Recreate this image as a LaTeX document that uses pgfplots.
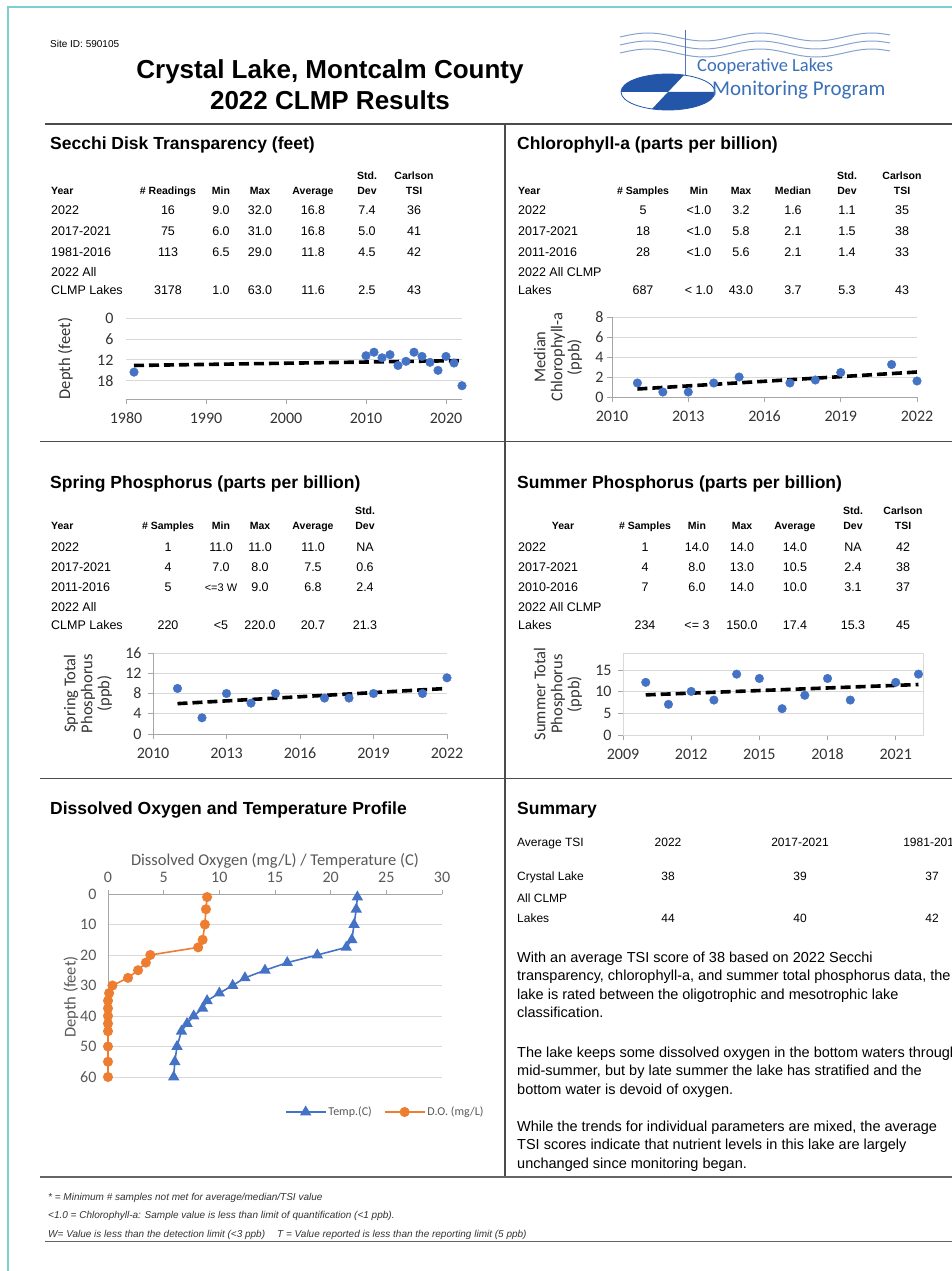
\documentclass[border=0pt]{standalone}
\usepackage{pgfplots}
\pgfplotsset{compat=1.18}
\usepackage{fontspec}
\setmainfont{Liberation Sans}
\newfontfamily\calib{Carlito}[Numbers=Lining]
\definecolor{xlblue}{HTML}{4472C4}
\definecolor{xlorange}{HTML}{ED7D31}
\definecolor{gridc}{HTML}{D9D9D9}
\definecolor{tealb}{HTML}{80CFCF}
\definecolor{logob}{HTML}{2356A8}
\definecolor{logot}{HTML}{3A70B8}
\definecolor{txtg}{HTML}{595959}
\newcommand{\fs}[1]{\fontsize{#1}{#1}\selectfont}
\newcommand{\fsl}[2]{\fontsize{#1}{#2}\selectfont}
\newcommand{\cells}[2]{\foreach \xx/\cc in {#2}{\node[anchor=base,inner sep=0pt] at (\xx,-#1) {\cc};}}
\newcommand{\lt}[3]{\node[anchor=base west,inner sep=0pt] at (#1,-#2) {#3};}
\tikzset{axln/.style={gray!70, line width=0.9pt}}

\pgfplotsset{
  smallchart/.style={
    scale only axis, clip=false,
    /pgf/number format/assume math mode=true,
    /pgf/number format/1000 sep={},
    ymajorgrids, grid style={gridc, line width=0.9pt},
    axis line style={gray!70, line width=0.9pt},
    tick style={gray!70, line width=0.9pt},
    major tick length=5pt, tick align=outside,
    tick label style={font=\calib\fs{16}, text=black!80},
    xticklabel style={text height=10.5pt, text depth=0pt},
    label style={font=\calib\fsl{16.5}{17}, text=black!80},
    xticklabel shift=5pt,
  },
  dots/.style={only marks, mark=*, mark size=4.3pt, mark options={fill=xlblue, draw=xlblue}},
  trend/.style={black, line width=3.6pt, dash pattern=on 10pt off 5pt, no marks},
}

\begin{document}
\begin{tikzpicture}[x=1pt,y=1pt]
\useasboundingbox (0,0) rectangle (952,-1271);
\fill[white] (0,0) rectangle (952,-1271);
% page border
\draw[tealb, line width=2.5pt] (8,-1290) -- (8,-7) -- (970,-7);

% header
\node[anchor=base west,inner sep=0pt,font=\fs{10}] at (50,-47.5) {Site ID: 590105};
\node[anchor=base,inner sep=0pt,font=\bfseries\fs{26}] at (330,-79) {Crystal Lake, Montcalm County};
\node[anchor=base,inner sep=0pt,font=\bfseries\fs{26}] at (330,-110) {2022 CLMP Results};

% logo
\begin{scope}[line width=1pt, draw=logob!55]
\draw (620,-37) sin (648,-33) cos (676,-37) sin (704,-41) cos (732,-37) sin (760,-33) cos (788,-37) sin (816,-41) cos (844,-37) sin (872,-33) cos (890,-35);
\draw (620,-45) sin (648,-41) cos (676,-45) sin (704,-49) cos (732,-45) sin (760,-41) cos (788,-45) sin (816,-49) cos (844,-45) sin (872,-41) cos (890,-43);
\draw (620,-53) sin (648,-49) cos (676,-53) sin (704,-57) cos (732,-53) sin (760,-49) cos (788,-53) sin (816,-57) cos (844,-53) sin (872,-49) cos (890,-51);
\end{scope}
\draw[logob!80, line width=0.8pt] (685,-30) -- (685,-75);
\begin{scope}
\clip (668,-92) ellipse[x radius=47, y radius=18];
\fill[logob] (600,-92) -- (668,-92) -- (688.8,-70) -- (600,-70) -- cycle;
\fill[logob] (668,-92) -- (720,-92) -- (720,-115) -- (646.3,-115) -- cycle;
\end{scope}
\draw[logob, line width=0.8pt] (668,-92) ellipse[x radius=47, y radius=18];
\node[anchor=base west,inner sep=0pt,text=logot,font=\calib\fs{18.5}] at (697,-72) {Cooperative Lakes};
\node[anchor=base west,inner sep=0pt,text=logot,font=\calib\fs{21}] at (712,-96) {Monitoring Program};

% section frame lines
\draw[black!70, line width=2.2pt] (45,-124) -- (960,-124);
\draw[black!70, line width=1pt] (40,-441) -- (960,-441);
\draw[black!70, line width=1pt] (40,-778) -- (960,-778);
\draw[black!70, line width=1.2pt] (505,-124) -- (505,-1177);
\draw[black!60, line width=2.8pt] (40,-1177) -- (960,-1177);
\draw[black!60, line width=0.7pt] (45,-1241) -- (960,-1241);

% section titles
\begin{scope}[font=\bfseries\fs{17.5}]
\lt{50}{149.5}{Secchi Disk Transparency (feet)}
\lt{517}{149.5}{Chlorophyll-a (parts per billion)}
\lt{50}{488}{Spring Phosphorus (parts per billion)}
\lt{517}{488}{Summer Phosphorus (parts per billion)}
\lt{50}{814}{Dissolved Oxygen and Temperature Profile}
\lt{517}{814}{Summary}
\end{scope}

% Secchi table
\begin{scope}[font=\bfseries\fs{10.5}]
\cells{179.5}{367/Std., 414/Carlson}
\lt{51}{194}{Year}
\cells{194}{168/\# Readings, 221/Min, 260/Max, 313/Average, 367/Dev, 414/TSI}
\end{scope}
\begin{scope}[font=\fs{12.5}]
\lt{51}{214.5}{2022}\cells{214.5}{168/16, 221/9.0, 260/32.0, 313/16.8, 367/7.4, 414/36}
\lt{51}{235.5}{2017-2021}\cells{235.5}{168/75, 221/6.0, 260/31.0, 313/16.8, 367/5.0, 414/41}
\lt{51}{256.5}{1981-2016}\cells{256.5}{168/113, 221/6.5, 260/29.0, 313/11.8, 367/4.5, 414/42}
\lt{51}{276}{2022 All}
\lt{51}{294}{CLMP Lakes}\cells{294}{168/3178, 221/1.0, 260/63.0, 313/11.6, 367/2.5, 414/43}
\end{scope}

% Chlorophyll table
\begin{scope}[font=\bfseries\fs{10.5}]
\cells{179.5}{847/Std., 902/Carlson}
\lt{518}{194}{Year}
\cells{194}{643/\# Samples, 699/Min, 741/Max, 793/Median, 847/Dev, 902/TSI}
\end{scope}
\begin{scope}[font=\fs{12.5}]
\lt{518}{214.5}{2022}\cells{214.5}{643/5, 699/<1.0, 741/3.2, 793/1.6, 847/1.1, 902/35}
\lt{518}{235.5}{2017-2021}\cells{235.5}{643/18, 699/<1.0, 741/5.8, 793/2.1, 847/1.5, 902/38}
\lt{518}{256.5}{2011-2016}\cells{256.5}{643/28, 699/<1.0, 741/5.6, 793/2.1, 847/1.4, 902/33}
\lt{518}{276}{2022 All CLMP}
\lt{518}{294}{Lakes}\cells{294}{643/687, 699/< 1.0, 741/43.0, 793/3.7, 847/5.3, 902/43}
\end{scope}

% Spring table
\begin{scope}[font=\bfseries\fs{10.5}]
\cells{514}{365/Std.}
\lt{51}{529}{Year}
\cells{529}{168/\# Samples, 221/Min, 260/Max, 313/Average, 365/Dev}
\end{scope}
\begin{scope}[font=\fs{12.5}]
\lt{51}{551.5}{2022}\cells{551.5}{168/1, 221/11.0, 260/11.0, 313/11.0, 365/NA}
\lt{51}{571.5}{2017-2021}\cells{571.5}{168/4, 221/7.0, 260/8.0, 313/7.5, 365/0.6}
\lt{51}{591.5}{2011-2016}\cells{591.5}{168/5, 313/6.8, 365/2.4, 260/9.0}
\node[anchor=base,inner sep=0pt,font=\fs{11}] at (221,-591.5) {<=3 W};
\lt{51}{611.5}{2022 All}
\lt{51}{629.5}{CLMP Lakes}\cells{629.5}{168/220, 221/<5, 260/220.0, 313/20.7, 365/21.3}
\end{scope}

% Summer table
\begin{scope}[font=\bfseries\fs{10.5}]
\cells{514}{853/Std., 903/Carlson}
\cells{529}{563/Year, 645/\# Samples, 697/Min, 742/Max, 795/Average, 853/Dev, 903/TSI}
\end{scope}
\begin{scope}[font=\fs{12.5}]
\lt{518}{551.5}{2022}\cells{551.5}{645/1, 697/14.0, 742/14.0, 795/14.0, 853/NA, 903/42}
\lt{518}{571.5}{2017-2021}\cells{571.5}{645/4, 697/8.0, 742/13.0, 795/10.5, 853/2.4, 903/38}
\lt{518}{591.5}{2010-2016}\cells{591.5}{645/7, 697/6.0, 742/14.0, 795/10.0, 853/3.1, 903/37}
\lt{518}{611.5}{2022 All CLMP}
\lt{518}{629.5}{Lakes}\cells{629.5}{645/234, 697/<= 3, 742/150.0, 795/17.4, 853/15.3, 903/45}
\end{scope}

% Summary table
\begin{scope}[font=\fs{12}]
\lt{517}{846}{Average TSI}\cells{846}{668/2022, 800/2017-2021, 932/1981-2016}
\lt{517}{880}{Crystal Lake}\cells{880}{668/38, 800/39, 932/37}
\lt{517}{902}{All CLMP}
\lt{517}{922}{Lakes}\cells{922}{668/44, 800/40, 932/42}
\end{scope}
\begin{scope}[font=\fs{14.5}]
\lt{517}{962}{With an average TSI score of 38 based on 2022 Secchi}
\lt{517}{980.5}{transparency, chlorophyll-a, and summer total phosphorus data, the}
\lt{517}{999}{lake is rated between the oligotrophic and mesotrophic lake}
\lt{517}{1017.5}{classification.}
\lt{517}{1057}{The lake keeps some dissolved oxygen in the bottom waters throughout}
\lt{517}{1075.5}{mid-summer, but by late summer the lake has stratified and the}
\lt{517}{1094}{bottom water is devoid of oxygen.}
\lt{517}{1131}{While the trends for individual parameters are mixed, the average}
\lt{517}{1149.5}{TSI scores indicate that nutrient levels in this lake are largely}
\lt{517}{1168}{unchanged since monitoring began.}
\end{scope}

% footnotes
\begin{scope}[font=\itshape\fs{10}, text=black!80]
\lt{48}{1200}{* = Minimum \# samples not met for average/median/TSI value}
\lt{48}{1218}{<1.0 = Chlorophyll-a: Sample value is less than limit of quantification (<1 ppb).}
\lt{48}{1237}{W= Value is less than the detection limit (<3 ppb)\hspace{1.2em}T = Value reported is less than the reporting limit (5 ppb)}
\end{scope}

% ---------- Secchi chart
\begin{axis}[smallchart, at={(126pt,-318pt)}, anchor=north west,
  width=336pt, height=81pt, xmin=1980, xmax=2022, ymin=0, ymax=23.2,
  y dir=reverse, axis x line*=bottom, axis y line*=left,
  axis line style={draw=none}, tick style={draw=none}, yticklabel shift=4pt,
  xtick={1980,1990,2000,2010,2020}, ytick={0,6,12,18},
  ylabel={Depth (feet)}, ylabel style={at={(axis description cs:-0.18,0.5)}, anchor=center}]
% bottom axis line and its tick marks
\addplot[axln, no marks, forget plot, unbounded coords=jump] coordinates {
 (1980,23.2) (2022,23.2) (nan,nan)
 (1980,23.2) (1980,24.6) (nan,nan) (1990,23.2) (1990,24.6) (nan,nan)
 (2000,23.2) (2000,24.6) (nan,nan) (2010,23.2) (2010,24.6) (nan,nan)
 (2020,23.2) (2020,24.6)};
\addplot[trend] coordinates {(1981,13.6) (2022,12.2)};
\addplot[dots] coordinates {(1981,15.5) (2010,10.8) (2011,9.8) (2012,11.4) (2013,10.5) (2014,13.6) (2015,12.4) (2016,9.8) (2017,11.0) (2018,12.7) (2019,15.0) (2020,11.0) (2021,12.9) (2022,19.4)};
\end{axis}

% ---------- Chlorophyll chart
\begin{axis}[smallchart, at={(612pt,-317pt)}, anchor=north west,
  width=305pt, height=80pt, xmin=2010, xmax=2022, ymin=0, ymax=8,
  axis x line*=bottom, axis y line*=left,
  xtick={2010,2013,2016,2019,2022}, ytick={0,2,4,6,8},
  ylabel={Median\\Chlorophyll-a\\(ppb)}, ylabel style={align=center, at={(axis description cs:-0.177,0.5)}, anchor=center}]
\addplot[trend] coordinates {(2011,0.8) (2022,2.5)};
\addplot[dots] coordinates {(2011,1.4) (2012,0.5) (2013,0.5) (2014,1.4) (2015,2.0) (2017,1.4) (2018,1.7) (2019,2.45) (2021,3.25) (2022,1.6)};
\end{axis}

% ---------- Spring chart
\begin{axis}[smallchart, at={(153pt,-653pt)}, anchor=north west,
  width=294pt, height=81pt, xmin=2010, xmax=2022, ymin=0, ymax=16,
  axis x line*=bottom, axis y line*=left, yticklabel shift=3pt,
  xtick={2010,2013,2016,2019,2022}, ytick={0,4,8,12,16},
  ylabel={Spring Total\\Phosphorus\\(ppb)}, ylabel style={align=center, at={(axis description cs:-0.221,0.5)}, anchor=center}]
\addplot[trend] coordinates {(2011,6.0) (2022,9.0)};
\addplot[dots] coordinates {(2011,9) (2012,3.2) (2013,8) (2014,6.1) (2015,8) (2017,7.1) (2018,7.1) (2019,8) (2021,8) (2022,11.1)};
\end{axis}

% ---------- Summer chart
\begin{axis}[smallchart, at={(623pt,-653pt)}, anchor=north west,
  width=300pt, height=82pt, xmin=2009, xmax=2022.2, ymin=0, ymax=19,
  axis line style={gridc, line width=0.9pt},
  xtick pos=left, ytick pos=left, yticklabel shift=3pt,
  xtick={2009,2012,2015,2018,2021}, ytick={0,5,10,15},
  ylabel={Summer Total\\Phosphorus\\(ppb)}, ylabel style={align=center, at={(axis description cs:-0.217,0.5)}, anchor=center}]
\addplot[trend] coordinates {(2010,9.3) (2022,11.7)};
\addplot[dots] coordinates {(2010,12.2) (2011,7.1) (2012,10.1) (2013,8.1) (2014,14.1) (2015,13.1) (2016,6.1) (2017,9.2) (2018,13.1) (2019,8.1) (2021,12.2) (2022,14.1)};
\end{axis}

% ---------- DO / Temperature profile
\begin{axis}[smallchart, at={(108pt,-894pt)}, anchor=north west,
  width=334pt, height=186pt, xmin=0, xmax=30, ymin=0, ymax=61,
  y dir=reverse, axis x line*=top, axis y line*=left,
  axis line style={draw=none}, tick style={draw=none},
  xticklabel shift=3pt, yticklabel shift=3pt,
  xtick={0,5,...,30}, ytick={0,10,...,60},
  tick label style={font=\calib\fs{16}, text=txtg},
  label style={font=\calib\fs{16.5}, text=txtg},
  xlabel={Dissolved Oxygen (mg/L) / Temperature (C)},
  xlabel style={yshift=-3pt},
  ylabel={Depth (feet)}, ylabel style={at={(axis description cs:-0.111,0.446)}, anchor=center},
  legend image code/.code={\draw[mark repeat=2,mark phase=2,#1] plot coordinates {(0pt,0pt) (20pt,0pt) (40pt,0pt)};},
  legend style={at={(axis description cs:0.83,-0.172)}, anchor=center, legend columns=2, draw=none,
    font=\calib\fs{12}, text=txtg, /tikz/every even column/.append style={column sep=10pt}}]
\draw[axln] (axis cs:0,0) -- (axis cs:30,0);
\draw[axln] (axis cs:0,0) -- (axis cs:0,61);
\pgfplotsinvokeforeach{0,5,10,15,20,25,30}{\draw[axln] (axis cs:#1,0) -- ++(0,4pt);}
\addplot[xlblue, line width=1.6pt, mark=triangle*, mark size=5pt, mark options={fill=xlblue, draw=xlblue}] coordinates {
(22.4,1) (22.3,5) (22.1,10) (21.9,15) (21.4,17.5) (18.8,20) (16.1,22.5) (14.1,25) (12.3,27.5) (11.2,30) (10.0,32.5) (8.9,35) (8.5,37.5) (7.7,40) (7.1,42.5) (6.6,45) (6.2,50) (6.0,55) (5.9,60)};
\addlegendentry{Temp.(C)}
\addplot[xlorange, line width=1.6pt, mark=*, mark size=4.2pt, mark options={fill=xlorange, draw=xlorange}] coordinates {
(8.9,1) (8.8,5) (8.7,10) (8.5,15) (8.1,17.5) (3.8,20) (3.4,22.5) (2.7,25) (1.8,27.5) (0.4,30) (0.1,32.5) (0.0,35) (0.0,37.5) (0.0,40) (0.0,42.5) (0.0,45) (0.0,50) (0.0,55) (0.0,60)};
\addlegendentry{D.O. (mg/L)}
\end{axis}
\end{tikzpicture}
\end{document}
